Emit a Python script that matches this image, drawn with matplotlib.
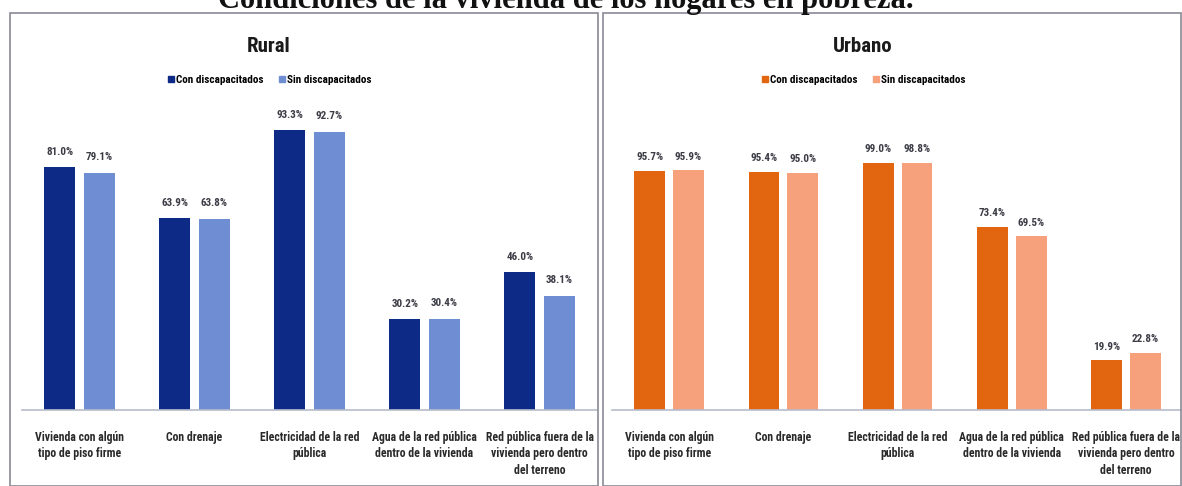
import matplotlib.pyplot as plt
import numpy as np
from matplotlib.patches import Rectangle
from matplotlib.lines import Line2D

# data
categorias = ["Vivienda con algún\ntipo de piso firme", "Con drenaje",
              "Electricidad de la red\npública",
              "Agua de la red pública\ndentro de la vivienda",
              "Red pública fuera de la\nvivienda pero dentro\ndel terreno"]
rural_con = [81.0, 63.9, 93.3, 30.2, 46.0]
rural_sin = [79.1, 63.8, 92.7, 30.4, 38.1]
urbano_con = [95.7, 95.4, 99.0, 73.4, 19.9]
urbano_sin = [95.9, 95.0, 98.8, 69.5, 22.8]
series_labels = ["Con discapacitados", "Sin discapacitados"]

plt.rcParams['font.family'] = ['Roboto Condensed', 'DejaVu Sans']

W, H = 1182, 486
fig = plt.figure(figsize=(W / 100, H / 100), dpi=100)
fig.patch.set_facecolor("white")


def px(x0, y0, x1, y1):
    # pixel box -> figure fraction [left, bottom, width, height]
    return [x0 / W, 1 - y1 / H, (x1 - x0) / W, (y1 - y0) / H]


# panel frames
fig.patches.append(Rectangle((10 / W, 0), (598 - 10) / W, 1 - 13 / H,
                             transform=fig.transFigure, fill=False,
                             edgecolor="#8a8a96", lw=1.2))
fig.patches.append(Rectangle((603 / W, 0), (1181 - 603) / W, 1 - 13 / H,
                             transform=fig.transFigure, fill=False,
                             edgecolor="#8a8a96", lw=1.2))

fig.text(566 / W, 1 - 8 / H, "Condiciones de la vivienda de los hogares en pobreza.",
         ha="center", va="baseline", fontsize=22, fontweight="bold",
         family="Liberation Serif", color="#111111")


def panel(rect, con, sin, colors, title, title_x, xr):
    ax = fig.add_axes(px(*rect))
    x = np.arange(len(categorias))
    w = 0.27
    off = 0.17
    b1 = ax.bar(x - off, con, w, color=colors[0])
    b2 = ax.bar(x + off, sin, w, color=colors[1])
    for bars, vals in ((b1, con), (b2, sin)):
        for b, v in zip(bars, vals):
            ax.text(b.get_x() + b.get_width() / 2, v + 3.5, f"{v:.1f}%",
                    ha="center", va="bottom", fontsize=8, fontweight="bold",
                    color="#3c3c46")
    ax.set_ylim(0, 100)
    ax.set_xlim(*xr)
    ax.set_xticks(x)
    ax.set_xticklabels(categorias, fontsize=8.5, fontweight="bold", color="#2a2a2a",
                       linespacing=1.35)
    ax.tick_params(axis="x", length=0, pad=15)
    ax.set_yticks([])
    for s in ("left", "right", "top"):
        ax.spines[s].set_visible(False)
    ax.spines["bottom"].set_color("#b8bccc")
    ax.spines["bottom"].set_linewidth(1.2)
    fig.text(title_x / W, 1 - 46 / H, title, ha="center", va="center",
             fontsize=15, fontweight="bold", color="#1a1a1a")
    handles = [Line2D([], [], marker="s", ls="", color=c, markersize=5) for c in colors]
    fig.legend(handles, series_labels, loc="center", ncol=2,
               bbox_to_anchor=(title_x / W, 1 - 80 / H), frameon=False,
               prop={"size": 8, "weight": "bold"}, handletextpad=0.1,
               columnspacing=1.2, handlelength=0.8)
    return ax


panel((22, 110, 597, 410), rural_con, rural_sin, ["#0d2b86", "#6f8dd2"],
      "Rural", 269, (-0.5, 4.5))
panel((612, 160, 1181, 410), urbano_con, urbano_sin, ["#e1660f", "#f7a07c"],
      "Urbano", 863, (-0.5, 4.48))

fig.savefig("out.png", dpi=100)
